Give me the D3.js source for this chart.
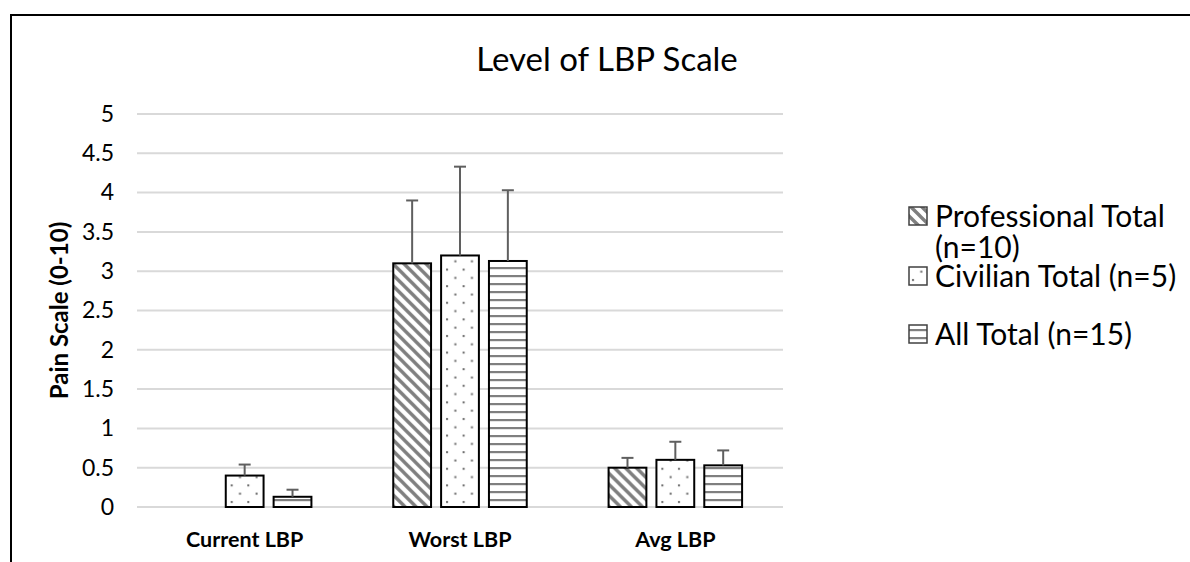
<!DOCTYPE html>
<html>
<head>
<meta charset="utf-8">
<script src="https://cdn.jsdelivr.net/npm/d3@7"></script>
<style>
  body { margin: 0; background: #fff; }
  svg { display: block; font-family: Lato, "Open Sans", sans-serif; }
</style>
</head>
<body>
<svg id="chart" width="1190" height="562"></svg>
<script>
const categories = ['Current LBP', 'Worst LBP', 'Avg LBP'];
const seriesNames = ['Professional Total', 'Civilian Total (n=5)', 'All Total (n=15)'];
const professional = [0, 3.1, 0.5];
const professionalErr = [0, 0.8, 0.125];
const civilian = [0.4, 3.2, 0.6];
const civilianErr = [0.14, 1.13, 0.23];
const allTotal = [0.13, 3.13, 0.53];
const allTotalErr = [0.09, 0.9, 0.19];
const yTicks = [0, 0.5, 1, 1.5, 2, 2.5, 3, 3.5, 4, 4.5, 5];

const series = [
  { key: 'pro', values: professional, errors: professionalErr },
  { key: 'civ', values: civilian, errors: civilianErr },
  { key: 'all', values: allTotal, errors: allTotalErr },
];

const svg = d3.select('#chart');
const plot = { left: 137, right: 783, top: 114, bottom: 507 };

// frame around chart area (right/bottom edges fall outside the picture)
svg.append('rect')
  .attr('x', 11).attr('y', 15)
  .attr('width', 1300).attr('height', 700)
  .attr('fill', 'none')
  .attr('stroke', '#000')
  .attr('stroke-width', 2);

// fill patterns
const defs = svg.append('defs');

const pDiag = defs.append('pattern')
  .attr('id', 'pat-pro')
  .attr('patternUnits', 'userSpaceOnUse')
  .attr('width', 11).attr('height', 11);
pDiag.append('rect').attr('width', 11).attr('height', 11).attr('fill', '#fff');
pDiag.append('path')
  .attr('d', 'M0,0 L11,11 M-2,9 L2,13 M9,-2 L13,2')
  .attr('stroke', '#7f7f7f')
  .attr('stroke-width', 3.4);

const pDots = defs.append('pattern')
  .attr('id', 'pat-civ')
  .attr('patternUnits', 'userSpaceOnUse')
  .attr('width', 16.6).attr('height', 16.6);
pDots.append('rect').attr('width', 16.6).attr('height', 16.6).attr('fill', '#fff');
pDots.append('rect').attr('x', 3).attr('y', 3).attr('width', 2).attr('height', 2).attr('fill', '#6a6a6a');
pDots.append('rect').attr('x', 11.3).attr('y', 11.3).attr('width', 2).attr('height', 2).attr('fill', '#6a6a6a');

const pHoriz = defs.append('pattern')
  .attr('id', 'pat-all')
  .attr('patternUnits', 'userSpaceOnUse')
  .attr('width', 8).attr('height', 8);
pHoriz.append('rect').attr('width', 8).attr('height', 8).attr('fill', '#fff');
pHoriz.append('rect').attr('y', 3).attr('width', 8).attr('height', 2.2).attr('fill', '#7f7f7f');

// scales
const x0 = d3.scaleBand()
  .domain(categories)
  .range([plot.left, plot.right])
  .paddingInner(0)
  .paddingOuter(0);

const groupWidth = x0.bandwidth() * 0.62;
const groupOffset = (x0.bandwidth() - groupWidth) / 2;

const x1 = d3.scaleBand()
  .domain(series.map(s => s.key))
  .range([0, groupWidth])
  .paddingInner(0.21)
  .paddingOuter(0);

const y = d3.scaleLinear()
  .domain([0, 5])
  .range([plot.bottom, plot.top]);

// gridlines
svg.append('g')
  .selectAll('line')
  .data(yTicks)
  .enter().append('line')
  .attr('x1', plot.left)
  .attr('x2', plot.right)
  .attr('y1', d => y(d))
  .attr('y2', d => y(d))
  .attr('stroke', '#d9d9d9')
  .attr('stroke-width', 2);

// y axis labels
const yAxis = svg.append('g')
  .attr('transform', `translate(${plot.left},0)`)
  .call(d3.axisLeft(y).tickValues(yTicks).tickSize(0).tickPadding(23).tickFormat(d3.format('')));
yAxis.select('.domain').remove();
yAxis.selectAll('text')
  .style('font-family', 'Lato, sans-serif')
  .style('font-size', '23px')
  .attr('fill', '#000');

// x axis labels
const xAxis = svg.append('g')
  .attr('transform', `translate(0,${plot.bottom})`)
  .call(d3.axisBottom(x0).tickSize(0));
xAxis.select('.domain').remove();
xAxis.selectAll('text')
  .attr('y', 40)
  .attr('dy', 0)
  .style('font-family', 'Lato, sans-serif')
  .style('font-size', '21.5px')
  .style('font-weight', 'bold')
  .attr('fill', '#000');

// bars
const groups = svg.append('g')
  .selectAll('g')
  .data(categories)
  .enter().append('g')
  .attr('transform', d => `translate(${x0(d) + groupOffset},0)`);

series.forEach(s => {
  const data = categories.map((c, i) => ({ key: s.key, value: s.values[i], err: s.errors[i] }));

  groups.data(data)
    .filter(d => d.value > 0)
    .append('rect')
    .attr('x', d => x1(d.key))
    .attr('y', d => y(d.value))
    .attr('width', x1.bandwidth())
    .attr('height', d => y(0) - y(d.value))
    .attr('fill', d => `url(#pat-${d.key})`)
    .attr('stroke', '#000')
    .attr('stroke-width', 2);

  const eb = groups.data(data)
    .filter(d => d.err > 0)
    .append('g')
    .attr('stroke', '#5f5f5f')
    .attr('stroke-width', 2);

  eb.append('line')
    .attr('x1', d => x1(d.key) + x1.bandwidth() / 2)
    .attr('x2', d => x1(d.key) + x1.bandwidth() / 2)
    .attr('y1', d => y(d.value))
    .attr('y2', d => y(d.value + d.err));

  eb.append('line')
    .attr('x1', d => x1(d.key) + x1.bandwidth() / 2 - 6)
    .attr('x2', d => x1(d.key) + x1.bandwidth() / 2 + 6)
    .attr('y1', d => y(d.value + d.err))
    .attr('y2', d => y(d.value + d.err));
});

// title
svg.append('text')
  .attr('x', 607)
  .attr('y', 71)
  .attr('text-anchor', 'middle')
  .style('font-size', '33px')
  .attr('fill', '#000')
  .text('Level of LBP Scale');

// y axis title
svg.append('text')
  .attr('transform', `translate(68,${(plot.top + plot.bottom) / 2}) rotate(-90)`)
  .attr('text-anchor', 'middle')
  .style('font-size', '24px')
  .style('font-weight', 'bold')
  .attr('fill', '#000')
  .text('Pain Scale (0-10)');

// legend
const legendRows = [
  { key: 'pro', lines: ['Professional Total', '(n=10)'], y: 216 },
  { key: 'civ', lines: [seriesNames[1]], y: 276 },
  { key: 'all', lines: [seriesNames[2]], y: 334 },
];

const legend = svg.append('g')
  .selectAll('g')
  .data(legendRows)
  .enter().append('g')
  .attr('transform', d => `translate(909,${d.y})`);

legend.append('rect')
  .attr('x', 0)
  .attr('y', -9)
  .attr('width', 18)
  .attr('height', 18)
  .attr('fill', d => `url(#pat-${d.key})`)
  .attr('stroke', '#404040')
  .attr('stroke-width', 1.5);

legend.append('text')
  .style('font-size', '30px')
  .attr('fill', '#000')
  .selectAll('tspan')
  .data(d => d.lines)
  .enter().append('tspan')
  .attr('x', 26)
  .attr('y', (d, i) => i * 31)
  .attr('dy', '0.36em')
  .text(d => d);
</script>
</body>
</html>
